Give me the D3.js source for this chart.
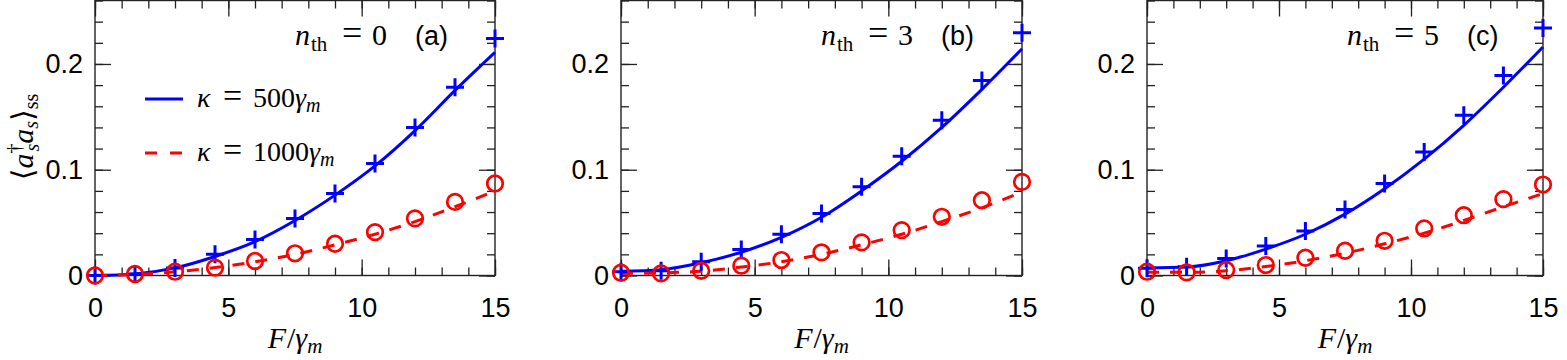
<!DOCTYPE html>
<html>
<head>
<meta charset="utf-8">
<script src="https://cdn.jsdelivr.net/npm/d3@7"></script>
<style>
  html, body { margin: 0; padding: 0; background: #fff; }
  svg { display: block; }
</style>
</head>
<body>
<svg id="chart" width="1567" height="360"></svg>
<script>
// ---------------- data ----------------
const F = [0, 1.5, 3, 4.5, 6, 7.5, 9, 10.5, 12, 13.5, 15];

// panel (a): n_th = 0
const blueMarkersA = [0, 0.0014, 0.007, 0.020, 0.034, 0.054, 0.0775, 0.106, 0.140, 0.178, 0.224];
const blueLineA    = [0, 0.0015, 0.0072, 0.018, 0.032, 0.052, 0.076, 0.1036, 0.137, 0.175, 0.211];
const redMarkersA  = [0, 0.0014, 0.0036, 0.0074, 0.0137, 0.021, 0.030, 0.041, 0.054, 0.0696, 0.087];
const redLineA     = [0, 0.001, 0.0035, 0.0075, 0.013, 0.020, 0.029, 0.039, 0.051, 0.065, 0.080];

// panel (b): n_th = 3
const blueMarkersB = [0.0036, 0.0045, 0.013, 0.0247, 0.0389, 0.0587, 0.0838, 0.1127, 0.1467, 0.1844, 0.2294];
const blueLineB    = [0.004, 0.0055, 0.012, 0.022, 0.036, 0.055, 0.080, 0.108, 0.140, 0.176, 0.2143];
const redMarkersB  = [0.0026, 0.002, 0.0045, 0.0093, 0.0146, 0.0219, 0.0313, 0.0429, 0.0555, 0.0712, 0.0885];
const redLineB     = [0.002, 0.0025, 0.004, 0.008, 0.013, 0.020, 0.029, 0.039, 0.051, 0.064, 0.079];

// panel (c): n_th = 5
const blueMarkersC = [0.0068, 0.0083, 0.016, 0.028, 0.042, 0.0625, 0.087, 0.1168, 0.1514, 0.189, 0.234];
const blueLineC    = [0.007, 0.008, 0.014, 0.025, 0.039, 0.058, 0.082, 0.110, 0.142, 0.178, 0.216];
const redMarkersC  = [0.0036, 0.003, 0.0052, 0.0099, 0.0168, 0.0234, 0.0328, 0.0445, 0.057, 0.0722, 0.086];
const redLineC     = [0.003, 0.003, 0.0045, 0.0085, 0.014, 0.021, 0.030, 0.040, 0.052, 0.065, 0.0775];

const nthValues   = ["0", "3", "5"];
const panelLabels = ["(a)", "(b)", "(c)"];
const xTickValues = [0, 5, 10, 15];
const xTickLabels = ["0", "5", "10", "15"];
const xMinorTicks = d3.range(0, 16, 1);
const yTickValues = [0, 0.1, 0.2];
const yTickLabels = ["0", "0.1", "0.2"];
const yMinorTicks = [0, 0.02, 0.04, 0.06, 0.08, 0.1, 0.12, 0.14, 0.16, 0.18, 0.2, 0.22, 0.24, 0.26];
const xDomain = [0, 15];
const yDomain = [0, 0.26];
const legendLabels = ["500", "1000"];

// ---------------- layout ----------------
const SERIF = "'Liberation Serif', 'DejaVu Serif', serif";
const SANS  = "'Liberation Sans', Arial, sans-serif";
const BLUE = "#0000ff", RED = "#ff0000", FRAME = "#222";
const plotTop = 0.5, plotBottom = 275.5;
const panelBoxes = [
  { left: 95,   right: 495 },
  { left: 621,  right: 1022 },
  { left: 1147, right: 1543 }
];
const panelData = [
  { bm: blueMarkersA, bl: blueLineA, rm: redMarkersA, rl: redLineA },
  { bm: blueMarkersB, bl: blueLineB, rm: redMarkersB, rl: redLineB },
  { bm: blueMarkersC, bl: blueLineC, rm: redMarkersC, rl: redLineC }
];

const svg = d3.select("#chart");

panelBoxes.forEach((box, i) => {
  const x = d3.scaleLinear().domain(xDomain).range([box.left, box.right]);
  const y = d3.scaleLinear().domain(yDomain).range([plotBottom, plotTop]);
  const g = svg.append("g");

  // frame
  g.append("rect")
    .attr("x", box.left).attr("y", plotTop)
    .attr("width", box.right - box.left).attr("height", plotBottom - plotTop)
    .attr("fill", "none").attr("stroke", FRAME).attr("stroke-width", 1.4);

  const styleAxis = (sel) => {
    sel.select(".domain").remove();
    sel.selectAll(".tick line").attr("stroke", FRAME).attr("stroke-width", 1.3);
  };

  // bottom axis: major with labels, minor
  g.append("g").attr("transform", `translate(0,${plotBottom})`)
    .call(d3.axisBottom(x).tickValues(xMinorTicks).tickSize(-8).tickFormat(""))
    .call(styleAxis);
  g.append("g").attr("transform", `translate(0,${plotBottom})`)
    .call(d3.axisBottom(x).tickValues(xTickValues).tickSize(-16).tickPadding(22)
      .tickFormat((d, k) => xTickLabels[k]))
    .call(styleAxis)
    .call(s => s.selectAll("text").attr("font-family", SANS).attr("font-size", 27).attr("fill", "#000"));

  // top axis
  g.append("g").attr("transform", `translate(0,${plotTop})`)
    .call(d3.axisTop(x).tickValues(xMinorTicks).tickSize(-8).tickFormat(""))
    .call(styleAxis);
  g.append("g").attr("transform", `translate(0,${plotTop})`)
    .call(d3.axisTop(x).tickValues(xTickValues).tickSize(-16).tickFormat(""))
    .call(styleAxis);

  // left axis
  g.append("g").attr("transform", `translate(${box.left},0)`)
    .call(d3.axisLeft(y).tickValues(yMinorTicks).tickSize(-8).tickFormat(""))
    .call(styleAxis);
  g.append("g").attr("transform", `translate(${box.left},0)`)
    .call(d3.axisLeft(y).tickValues(yTickValues).tickSize(-16).tickPadding(12)
      .tickFormat((d, k) => yTickLabels[k]))
    .call(styleAxis)
    .call(s => s.selectAll("text").attr("font-family", SANS).attr("font-size", 27).attr("fill", "#000"));

  // right axis
  g.append("g").attr("transform", `translate(${box.right},0)`)
    .call(d3.axisRight(y).tickValues(yMinorTicks).tickSize(-8).tickFormat(""))
    .call(styleAxis);
  g.append("g").attr("transform", `translate(${box.right},0)`)
    .call(d3.axisRight(y).tickValues(yTickValues).tickSize(-16).tickFormat(""))
    .call(styleAxis);

  const pd = panelData[i];
  const line = d3.line().x((d, k) => x(F[k])).y(d => y(d)).curve(d3.curveMonotoneX);

  // blue solid line
  g.append("path").datum(pd.bl).attr("d", line)
    .attr("fill", "none").attr("stroke", BLUE).attr("stroke-width", 3);
  // red dashed line
  g.append("path").datum(pd.rl).attr("d", line)
    .attr("fill", "none").attr("stroke", RED).attr("stroke-width", 3)
    .attr("stroke-dasharray", "12,11");

  // blue plus markers
  const P = 9;
  g.append("g").selectAll("path").data(pd.bm).join("path")
    .attr("d", (d, k) => {
      const cx = x(F[k]), cy = y(d);
      return `M${cx - P},${cy}H${cx + P}M${cx},${cy - P}V${cy + P}`;
    })
    .attr("stroke", BLUE).attr("stroke-width", 3).attr("fill", "none");

  // red circle markers
  g.append("g").selectAll("circle").data(pd.rm).join("circle")
    .attr("cx", (d, k) => x(F[k])).attr("cy", d => y(d)).attr("r", 7.8)
    .attr("fill", "none").attr("stroke", RED).attr("stroke-width", 2.7);

  // annotation n_th = ...
  const ann = g.append("text")
    .attr("y", 45)
    .attr("font-family", SERIF).attr("font-size", 30).attr("fill", "#000");
  ann.append("tspan").attr("x", box.left + 200).attr("font-style", "italic").text("n");
  ann.append("tspan").attr("x", box.left + 216).attr("font-size", 21).attr("dy", 6).text("th");
  ann.append("tspan").attr("x", box.left + 247).attr("dy", -6).attr("font-size", 36).text("=");
  ann.append("tspan").attr("x", box.left + 277).text(nthValues[i]);

  g.append("text")
    .attr("x", box.left + 320).attr("y", 45)
    .attr("font-family", SANS).attr("font-size", 27).attr("fill", "#000")
    .text(panelLabels[i]);

  // x-axis label F/γ_m
  const xl = g.append("text")
    .attr("x", (box.left + box.right) / 2).attr("y", 348)
    .attr("text-anchor", "middle")
    .attr("font-family", SERIF).attr("font-size", 30).attr("fill", "#000");
  xl.append("tspan").attr("font-style", "italic").text("F");
  xl.append("tspan").attr("dx", 1).text("/");
  xl.append("tspan").attr("font-style", "italic").text("γ");
  xl.append("tspan").attr("font-style", "italic").attr("font-size", 21).attr("dy", 5).text("m");
});

// ---------------- legend (panel a) ----------------
const legendColors = [BLUE, RED];
const legendDash = [null, "12,13"];
const legendY = [99, 153];
legendLabels.forEach((lab, k) => {
  svg.append("line")
    .attr("x1", 145).attr("x2", 183).attr("y1", legendY[k]).attr("y2", legendY[k])
    .attr("stroke", legendColors[k]).attr("stroke-width", 3)
    .attr("stroke-dasharray", legendDash[k]);
  const t = svg.append("text")
    .attr("y", legendY[k] + 8)
    .attr("font-family", SERIF).attr("font-size", 28).attr("fill", "#000");
  t.append("tspan").attr("x", 197).attr("font-style", "italic").text("κ");
  t.append("tspan").attr("x", 223).attr("font-size", 34).text("=");
  t.append("tspan").attr("x", 253).text(lab);
  t.append("tspan").attr("font-style", "italic").text("γ");
  t.append("tspan").attr("font-style", "italic").attr("font-size", 20).attr("dy", 5).text("m");
});

// ---------------- y-axis label ----------------
const yl = svg.append("text")
  .attr("transform", "translate(33,137) rotate(-90)")
  .attr("text-anchor", "middle")
  .attr("font-family", SERIF).attr("font-size", 30).attr("fill", "#000");
yl.append("tspan").text("⟨");
yl.append("tspan").attr("font-style", "italic").text("a");
yl.append("tspan").attr("font-size", 20).attr("dy", -12).text("†");
yl.append("tspan").attr("font-size", 20).attr("font-style", "italic").attr("dx", -8).attr("dy", 18).text("s");
yl.append("tspan").attr("font-style", "italic").attr("dy", -6).text("a");
yl.append("tspan").attr("font-size", 20).attr("font-style", "italic").attr("dy", 5).text("s");
yl.append("tspan").attr("dy", -5).text("⟩");
yl.append("tspan").attr("font-size", 20).attr("dy", 5).text("ss");
</script>
</body>
</html>
